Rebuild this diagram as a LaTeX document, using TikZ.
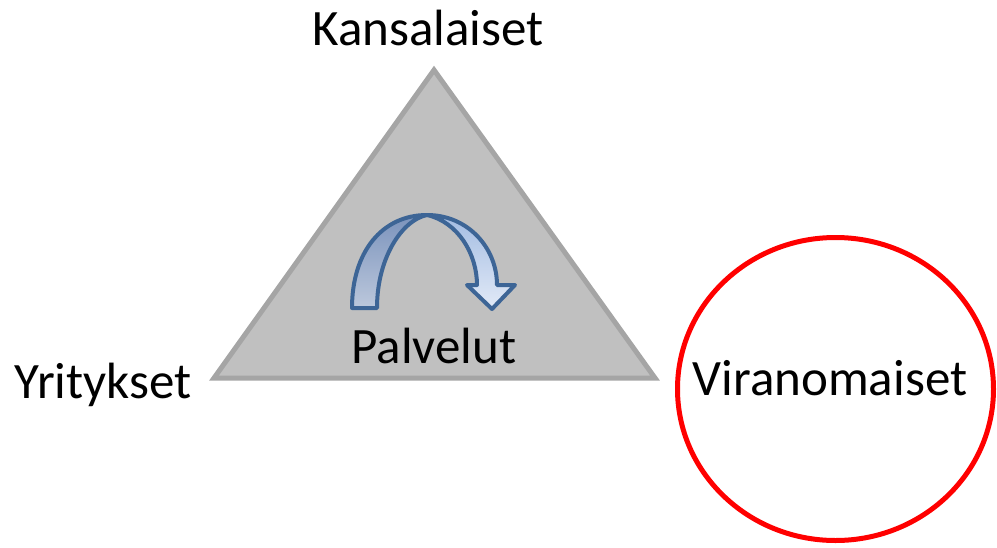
\documentclass[tikz,border=0pt]{standalone}
\usepackage{fontspec}
\setmainfont{Carlito}
\usetikzlibrary{shapes.geometric}
\begin{document}
\begin{tikzpicture}[x=1pt,y=-1pt,
  lbl/.style={anchor=base,inner sep=0pt,font=\fontsize{51}{60}\selectfont},
  tri/.style={draw=triedge,fill=trifill,line width=5pt,line join=miter},
  ring/.style={draw=red,line width=5pt},
  arrowpart/.style={draw=arrowedge,line width=4pt,line join=round}]
\definecolor{triedge}{HTML}{A5A5A5}
\definecolor{trifill}{HTML}{C0C0C0}
\definecolor{arrowedge}{HTML}{3D6596}
\definecolor{backtop}{HTML}{7B93BC}
\definecolor{backbot}{HTML}{BCC8DC}
\definecolor{fronttop}{HTML}{A3BCE2}
\definecolor{frontbot}{HTML}{E2EAF7}
\useasboundingbox (0,0) rectangle (997,547);
% triangle
\coordinate (apex) at (434,70);
\coordinate (bl) at (214,378);
\coordinate (br) at (655,378);
\draw[tri] (apex) -- (br) -- (bl) -- cycle;
% circle
\node[ring,ellipse,minimum width=316pt,minimum height=303pt,inner sep=0pt] (circ) at (835.5,389) {};
% curved arrow: back band
\path[arrowpart,top color=backtop,bottom color=backbot]
  (352,308) .. controls (352,252) and (382,215) .. (427,215)
  .. controls (402,220) and (377,258) .. (377,308) -- cycle;
% front band with head
\path[arrowpart,top color=fronttop,bottom color=frontbot]
  (427,215) .. controls (468,215) and (497,248) .. (497,285)
  -- (515,285) -- (492,309) -- (467,285) -- (477,285)
  .. controls (477,254) and (458,222) .. (427,215) -- cycle;
% labels
\node[lbl] (kans) at (428,45) {Kansalaiset};
\node[lbl] (yrit) at (103,398) {Yritykset};
\node[lbl] (palv) at (434,363) {Palvelut};
\node[lbl] (vira) at (830,395) {Viranomaiset};
\end{tikzpicture}
\end{document}
